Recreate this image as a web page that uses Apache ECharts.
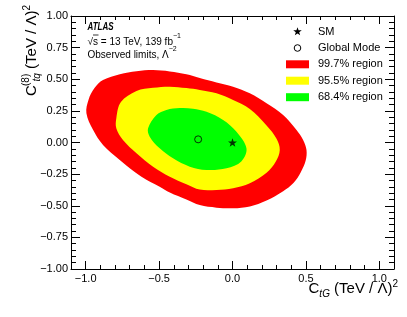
<!DOCTYPE html>
<html>
<head>
<meta charset="utf-8">
<script src="https://cdn.jsdelivr.net/npm/echarts@6/dist/echarts.min.js"></script>
<style>html,body{margin:0;padding:0;background:#fff}#c{width:407px;height:317px}</style>
</head>
<body>
<div id="c"></div>
<script>
// ---- data ----
const xRange = [-1.1, 1.1];
const yRange = [-1.0, 1.0];
const xMajorTicks = [-1.0, -0.5, 0.0, 0.5, 1.0];
const xMinorTicks = [-1.1,-1.0,-0.9,-0.8,-0.7,-0.6,-0.5,-0.4,-0.3,-0.2,-0.1,0.0,0.1,0.2,0.3,0.4,0.5,0.6,0.7,0.8,0.9,1.0,1.1];
const yMajorInterval = 0.25;
const yMinorInterval = 0.05;

const region997 = [
[-0.995,0.231],[-0.980,0.340],[-0.940,0.430],[-0.882,0.494],[-0.767,0.540],[-0.654,0.563],[-0.541,0.573],[-0.427,0.562],[-0.314,0.540],[-0.223,0.510],[-0.109,0.475],[0.004,0.441],[0.118,0.389],[0.232,0.310],[0.345,0.217],[0.436,0.099],[0.481,0.020],[0.504,-0.059],[0.498,-0.145],[0.465,-0.235],[0.415,-0.320],[0.345,-0.385],[0.232,-0.458],[0.118,-0.505],[0.004,-0.520],[-0.109,-0.515],[-0.223,-0.495],[-0.314,-0.450],[-0.427,-0.395],[-0.496,-0.349],[-0.620,-0.270],[-0.768,-0.138],[-0.882,-0.020],[-0.950,0.100]
];
const region955 = [
[-0.791,0.194],[-0.760,0.320],[-0.654,0.408],[-0.541,0.432],[-0.427,0.441],[-0.314,0.430],[-0.223,0.415],[-0.109,0.389],[0.004,0.336],[0.118,0.265],[0.232,0.135],[0.300,0.030],[0.322,-0.059],[0.295,-0.150],[0.232,-0.240],[0.118,-0.323],[0.004,-0.362],[-0.109,-0.375],[-0.223,-0.372],[-0.314,-0.330],[-0.427,-0.270],[-0.541,-0.191],[-0.654,-0.085],[-0.746,0.020],[-0.791,0.110]
];
const region684 = [
[-0.575,0.112],[-0.518,0.217],[-0.450,0.257],[-0.359,0.272],[-0.269,0.267],[-0.177,0.243],[-0.064,0.178],[0.027,0.085],[0.095,-0.046],[0.060,-0.150],[-0.041,-0.204],[-0.177,-0.217],[-0.291,-0.191],[-0.405,-0.125],[-0.496,-0.046],[-0.564,0.046]
];
const smPoint = [[0.0, 0.0]];
const globalMode = [[-0.234, 0.025]];
const regionColors = ['#ff0000', '#ffff00', '#00ff00'];
const legendLabels = ['SM', 'Global Mode', '99.7% region', '95.5% region', '68.4% region'];

// ---- chart ----
const FONT = "'Liberation Sans', Arial, Helvetica, sans-serif";
const chart = echarts.init(document.getElementById('c'), null, {renderer: 'canvas'});
const fmt = (d) => (v) => v.toFixed(d).replace('-', '\u2212');
const STAR = 'path://M0,-10L2.35,-3.24L9.51,-3.09L3.8,1.24L5.88,8.09L0,4L-5.88,8.09L-3.8,1.24L-9.51,-3.09L-2.35,-3.24Z';

function xAxisDef(pos, ticks, len, labels, line) {
  return {
    type: 'value', position: pos, min: xRange[0], max: xRange[1],
    splitLine: {show: false},
    axisLine: {show: line, onZero: false, lineStyle: {color: '#000', width: 1}},
    axisTick: {show: true, inside: true, length: len, customValues: ticks, lineStyle: {color: '#000', width: 1}},
    axisLabel: labels ? {show: true, customValues: xMajorTicks, formatter: fmt(1), margin: 4, fontSize: 11, color: '#000', fontFamily: FONT} : {show: false}
  };
}
function yAxisDef(pos, interval, len, labels, line) {
  return {
    type: 'value', position: pos, min: yRange[0], max: yRange[1], interval: interval,
    splitLine: {show: false},
    axisLine: {show: line, onZero: false, lineStyle: {color: '#000', width: 1}},
    axisTick: {show: true, inside: true, length: len, lineStyle: {color: '#000', width: 1}},
    axisLabel: labels ? {show: true, formatter: fmt(2), margin: 3, fontSize: 11, color: '#000', fontFamily: FONT} : {show: false}
  };
}
function regionSeries(pts, color) {
  return {
    type: 'custom', coordinateSystem: 'cartesian2d', xAxisIndex: 0, yAxisIndex: 0,
    data: [pts[0]], silent: true, clip: true,
    renderItem: (params, api) => ({
      type: 'polygon',
      shape: {points: pts.map(p => api.coord(p)), smooth: 0.35},
      style: {fill: color, stroke: null}
    })
  };
}
function starPoints(cx, cy, r) {
  const pts = [];
  for (let i = 0; i < 10; i++) {
    const a = -Math.PI / 2 + i * Math.PI / 5;
    const rr = i % 2 === 0 ? r : r * 0.4;
    pts.push([cx + rr * Math.cos(a), cy + rr * Math.sin(a)]);
  }
  return pts;
}

const legendX = 297.5, legendTextX = 318;
const legendY = [31.7, 48, 64.3, 80.7, 97.2];
const graphics = [];
graphics.push({type: 'polygon', shape: {points: starPoints(legendX, legendY[0], 4.5)}, style: {fill: '#000'}});
graphics.push({type: 'circle', shape: {cx: legendX, cy: legendY[1], r: 3.3}, style: {fill: 'none', stroke: '#000', lineWidth: 1}});
for (let i = 0; i < 3; i++) {
  graphics.push({type: 'rect', shape: {x: 286, y: legendY[i + 2] - 4, width: 23, height: 8}, style: {fill: regionColors[i]}});
}
legendLabels.forEach((t, i) => {
  graphics.push({type: 'text', x: legendTextX, y: legendY[i], style: {text: t, font: '11px ' + FONT, fill: '#000', align: 'left', verticalAlign: 'middle'}});
});
// ATLAS label block
graphics.push({type: 'text', x: 87.5, y: 27, scaleX: 0.8, style: {text: 'ATLAS', font: 'italic bold 10px ' + FONT, fill: '#000', align: 'left', verticalAlign: 'middle'}});
graphics.push({type: 'text', x: 87.5, y: 40, style: {
  text: '{n|\u221As = 13 TeV, 139 fb}{sup|\u22121}', align: 'left', verticalAlign: 'middle',
  rich: {n: {fontSize: 10, fontFamily: FONT, fill: '#000', lineHeight: 14, verticalAlign: 'bottom'}, sup: {fontSize: 7, fontFamily: FONT, fill: '#000', verticalAlign: 'top', lineHeight: 14}}
}});
graphics.push({type: 'line', shape: {x1: 93, y1: 35, x2: 98.5, y2: 35}, style: {stroke: '#000', lineWidth: 0.8}});
graphics.push({type: 'text', x: 87.5, y: 53, style: {
  text: '{n|Observed limits, \u039B}{sup|\u22122}', align: 'left', verticalAlign: 'middle',
  rich: {n: {fontSize: 10, fontFamily: FONT, fill: '#000', lineHeight: 14, verticalAlign: 'bottom'}, sup: {fontSize: 7, fontFamily: FONT, fill: '#000', verticalAlign: 'top', lineHeight: 14}}
}});
const titleRich = {
  c: {fontSize: 15, fontFamily: FONT, fill: '#000', lineHeight: 20, verticalAlign: 'middle'},
  sub: {fontSize: 10, fontFamily: FONT, fontStyle: 'italic', fill: '#000', lineHeight: 20, verticalAlign: 'bottom'},
  subw: {fontSize: 10, fontFamily: FONT, fontStyle: 'italic', fill: '#000', lineHeight: 20, verticalAlign: 'bottom', width: 12},
  sup: {fontSize: 10, fontFamily: FONT, fill: '#000', lineHeight: 20, verticalAlign: 'top'}
};
// x-axis title
graphics.push({type: 'text', x: 398, y: 289, style: {
  text: '{c|C}{sub|tG}{c| (TeV / \u039B)}{sup|2}', align: 'right', verticalAlign: 'middle', rich: titleRich
}});
// y-axis title (rotated)
graphics.push({type: 'text', x: 32, y: 5, rotation: Math.PI / 2, style: {
  text: '{c|C}{subw|tq}{c| (TeV / \u039B)}{sup|2}', align: 'right', verticalAlign: 'middle', rich: titleRich
}});
graphics.push({type: 'text', x: 26, y: 86, rotation: Math.PI / 2, style: {
  text: '(8)', font: '10px ' + FONT, fill: '#000', align: 'left', verticalAlign: 'middle'
}});

chart.setOption({
  animation: false,
  backgroundColor: '#fff',
  grid: {left: 71, right: 13, top: 16, bottom: 48, containLabel: false},
  xAxis: [
    xAxisDef('bottom', xMajorTicks, 8, true, true),
    xAxisDef('bottom', xMinorTicks, 4, false, false),
    xAxisDef('top', xMajorTicks, 8, false, true),
    xAxisDef('top', xMinorTicks, 4, false, false)
  ],
  yAxis: [
    yAxisDef('left', yMajorInterval, 9, true, true),
    yAxisDef('left', yMinorInterval, 5, false, false),
    yAxisDef('right', yMajorInterval, 9, false, true),
    yAxisDef('right', yMinorInterval, 5, false, false)
  ],
  series: [
    regionSeries(region997, regionColors[0]),
    regionSeries(region955, regionColors[1]),
    regionSeries(region684, regionColors[2]),
    {type: 'scatter', data: globalMode, symbol: 'circle', symbolSize: 7, silent: true,
     itemStyle: {color: 'rgba(0,0,0,0)', borderColor: '#000', borderWidth: 1}},
    {type: 'scatter', data: smPoint, symbol: STAR, symbolSize: 9, symbolKeepAspect: true, silent: true,
     itemStyle: {color: '#000'}}
  ],
  graphic: graphics
});
</script>
</body>
</html>
